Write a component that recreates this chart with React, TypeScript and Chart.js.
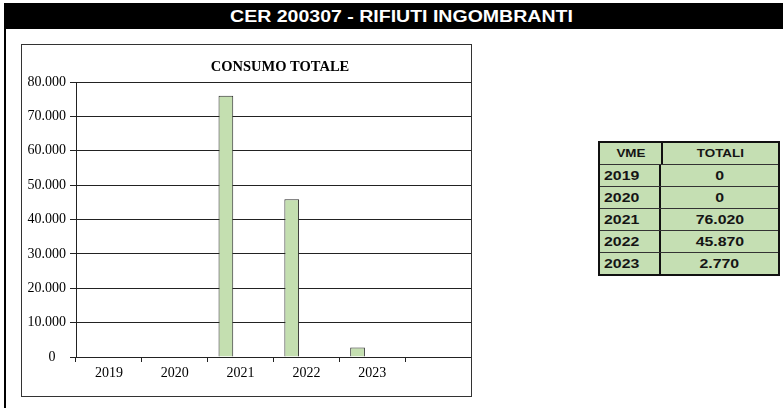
import React, { useEffect, useRef } from "react";
import { Chart, registerables } from "chart.js";

Chart.register(...registerables);

const years = ["2019", "2020", "2021", "2022", "2023"];
const categories = ["2019", "2020", "2021", "2022", "2023", ""];
const totals = [0, 0, 76020, 45870, 2770];
const yTicks = [0, 10000, 20000, 30000, 40000, 50000, 60000, 70000, 80000];
const tableValues = ["0", "0", "76.020", "45.870", "2.770"];

const fmt = (v: number) =>
  v === 0 ? "0   " : String(v).replace(/\B(?=(\d{3})+(?!\d))/g, ".");

const serif = "'Liberation Serif', 'Times New Roman', serif";
const sans = "'Liberation Sans', Arial, sans-serif";

const titlePlugin = {
  id: "ctitle",
  afterDraw(chart: any) {
    const ctx = chart.ctx;
    ctx.save();
    ctx.font = "bold 14.5px " + serif;
    ctx.fillStyle = "#000";
    ctx.textAlign = "center";
    ctx.textBaseline = "middle";
    ctx.fillText("CONSUMO TOTALE", 258, 22);
    ctx.restore();
  },
};

export default function App() {
  const ref = useRef<HTMLCanvasElement | null>(null);
  useEffect(() => {
    if (!ref.current) return;
    const data = categories.map((c, i) => (i < totals.length ? totals[i] : null));
    const empty = categories.map(() => null);
    const chart = new Chart(ref.current, {
      type: "bar",
      data: {
        labels: categories,
        datasets: [
          {
            label: "TOTALI",
            data,
            backgroundColor: "#c4dfb0",
            borderColor: "#2a2a2a",
            borderWidth: 1,
            categoryPercentage: 0.67,
            barPercentage: 1,
          },
          { label: "b", data: empty, categoryPercentage: 0.67, barPercentage: 1 },
          { label: "c", data: empty, categoryPercentage: 0.67, barPercentage: 1 },
        ],
      },
      options: {
        animation: false,
        responsive: false,
        maintainAspectRatio: false,
        layout: { padding: { top: 37, left: 0, right: 0, bottom: 0 } },
        plugins: { legend: { display: false }, tooltip: { enabled: false }, title: { display: false } },
        scales: {
          x: {
            offset: true,
            grid: { offset: true, drawOnChartArea: false, drawTicks: true, tickLength: 5, color: "#222" },
            border: { color: "#222", width: 1 },
            ticks: {
              font: { family: serif, size: 14 },
              color: "#000",
              padding: 3,
              maxRotation: 0,
              autoSkip: false,
            },
            afterFit: (s: any) => {
              s.height = 39;
            },
          },
          y: {
            min: 0,
            max: 80000,
            afterBuildTicks: (s: any) => {
              s.ticks = yTicks.map((v) => ({ value: v }));
            },
            grid: { color: "#222", tickLength: 6, lineWidth: 1 },
            border: { color: "#222", width: 1 },
            ticks: {
              font: { family: serif, size: 14 },
              color: "#000",
              padding: 4,
              callback: (v: any) => fmt(Number(v)),
            },
            afterFit: (s: any) => {
              s.width = 54;
            },
          },
        },
      },
      plugins: [titlePlugin],
    });
    return () => chart.destroy();
  }, []);

  const green = "#c5dfb3";
  const stretch = (origin: string): React.CSSProperties => ({
    display: "inline-block",
    transform: "scaleX(1.22)",
    transformOrigin: origin,
  });
  return (
    <div style={{ position: "absolute", left: 0, top: 0, width: 783, height: 408, background: "#fff", overflow: "hidden" }}>
      <div
        style={{
          position: "absolute",
          left: 4,
          top: 3,
          width: 779,
          height: 26,
          background: "#000",
          color: "#fff",
          boxSizing: "border-box",
          paddingLeft: 15,
          paddingTop: 2,
          textAlign: "center",
          lineHeight: "24px",
          fontFamily: sans,
          fontSize: 16,
          fontWeight: "bold",
        }}
      >
        <span style={stretch("center")}>CER 200307 - RIFIUTI INGOMBRANTI</span>
      </div>
      <div style={{ position: "absolute", left: 4, top: 29, width: 2, height: 379, background: "#000" }} />
      <canvas ref={ref} width={449} height={351} style={{ position: "absolute", left: 22, top: 45, width: 449, height: 351 }} />
      <div
        style={{
          position: "absolute",
          left: 21,
          top: 44,
          width: 451,
          height: 353,
          boxSizing: "border-box",
          border: "1px solid #333",
          pointerEvents: "none",
        }}
      />
      <div
        style={{
          position: "absolute",
          left: 598,
          top: 141,
          width: 182,
          height: 135,
          boxSizing: "border-box",
          border: "2px solid #111",
          background: green,
          fontFamily: sans,
          fontWeight: "bold",
          color: "#151515",
        }}
      >
        <div style={{ display: "flex", height: 22, borderBottom: "1px solid #333", boxSizing: "border-box", fontSize: 11 }}>
          <div style={{ width: 61, borderRight: "2px solid #111", textAlign: "center", lineHeight: "21px" }}>
            <span style={stretch("center")}>VME</span>
          </div>
          <div style={{ flex: 1, textAlign: "center", lineHeight: "21px" }}>
            <span style={stretch("center")}>TOTALI</span>
          </div>
        </div>
        {years.map((y, i) => (
          <div
            key={y}
            style={{
              display: "flex",
              height: i === years.length - 1 ? 21 : 22,
              borderBottom: i === years.length - 1 ? "none" : "1px solid #333",
              boxSizing: "border-box",
              fontSize: 13,
            }}
          >
            <div style={{ width: 61, borderRight: "2px solid #111", paddingLeft: 4, lineHeight: "21px", boxSizing: "border-box" }}>
              <span style={stretch("left")}>{y}</span>
            </div>
            <div style={{ flex: 1, textAlign: "center", lineHeight: "21px" }}>
              <span style={stretch("center")}>{tableValues[i]}</span>
            </div>
          </div>
        ))}
      </div>
    </div>
  );
}
